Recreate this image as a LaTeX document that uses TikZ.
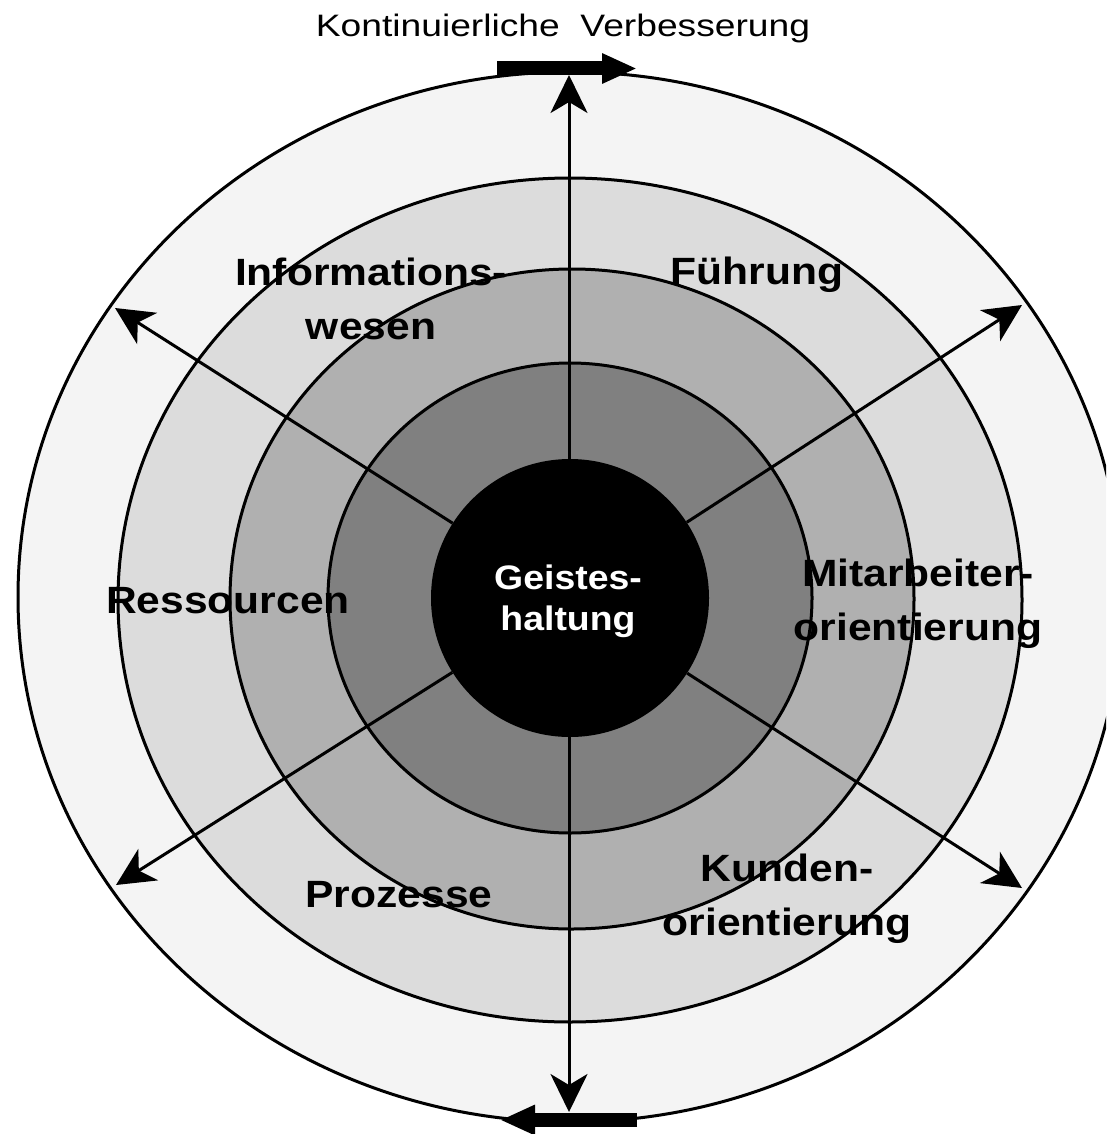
\documentclass[tikz,border=0pt]{standalone}
\usepackage{fontspec}
\setmainfont{Liberation Sans}
\newfontfamily\lblfont[FakeStretch=1.12]{Liberation Sans}
\newfontfamily\ctrfont[FakeStretch=1.1]{Liberation Sans}
\newfontfamily\topfont[FakeStretch=1.2]{Liberation Sans}
\usetikzlibrary{arrows.meta}
\definecolor{ringA}{HTML}{F4F4F4}
\definecolor{ringB}{HTML}{DCDCDC}
\definecolor{ringC}{HTML}{B0B0B0}
\definecolor{ringD}{HTML}{808080}
\tikzset{
  ring/.style={draw=black, line width=3pt},
  conn/.style={draw=black, line width=3pt, -{Stealth[length=38pt, width=37pt, inset=11pt]}},
  biconn/.style={draw=black, line width=3pt, {Stealth[length=38pt, width=37pt, inset=11pt]}-{Stealth[length=38pt, width=37pt, inset=11pt]}},
  bar/.style={draw=black, line width=14pt, -{Triangle[length=35pt, width=28pt]}},
  lbl/.style={font=\lblfont\bfseries\fontsize{38}{54}\selectfont, align=center, inner sep=0pt, text=black},
  ctr/.style={font=\ctrfont\bfseries\fontsize{34}{41}\selectfont, align=center, inner sep=0pt, text=white},
  toptxt/.style={font=\topfont\fontsize{31}{34}\selectfont, inner sep=0pt}
}
\begin{document}
\begin{tikzpicture}[x=1pt, y=-1pt]
\useasboundingbox (0,0) rectangle (1106,1134);
\clip (0,0) rectangle (1106,1134);
\fill[white] (0,0) rectangle (1106,1134);
% rings
\draw[ring, fill=ringA] (570,597) ellipse [x radius=552pt, y radius=525pt];
\draw[ring, fill=ringB] (570,600) ellipse [x radius=452pt, y radius=422pt];
\draw[ring, fill=ringC] (572,599) ellipse [x radius=342pt, y radius=330pt];
\draw[ring, fill=ringD] (570,598) ellipse [x radius=242pt, y radius=235pt];
\node[circle, fill=black, minimum size=278pt, inner sep=0pt] (c) at (570,598) {};
% arrow end points
\coordinate (vT) at (569,75);
\coordinate (vB) at (569,1112);
\coordinate (tUL) at (115,308);
\coordinate (tUR) at (1022,305);
\coordinate (tLL) at (116,885);
\coordinate (tLR) at (1022,888);
\draw[biconn] (vB) -- (vT);
\draw[conn] (c) -- (tUL);
\draw[conn] (c) -- (tUR);
\draw[conn] (c) -- (tLL);
\draw[conn] (c) -- (tLR);
% rotation bars
\coordinate (bTs) at (497,68.5);
\coordinate (bTe) at (637,68.5);
\coordinate (bBs) at (637,1120);
\coordinate (bBe) at (500,1120);
\draw[bar] (bTs) -- (bTe);
\draw[bar] (bBs) -- (bBe);
% labels
\node[toptxt] (top) at (563,28) {Kontinuierliche\ \ Verbesserung};
\node[ctr] (geist) at (568,601) {Geistes-\\haltung};
\node[lbl] (info) at (371,299) {Informations-\\wesen};
\node[lbl] (fuehr) at (757,275) {Führung};
\node[lbl] (ress) at (228,601) {Ressourcen};
\node[lbl] (mitarb) at (918,604) {Mitarbeiter-\\orientierung};
\node[lbl] (proz) at (399,895) {Prozesse};
\node[lbl] (kund) at (787,899) {Kunden-\\orientierung};
\end{tikzpicture}
\end{document}
